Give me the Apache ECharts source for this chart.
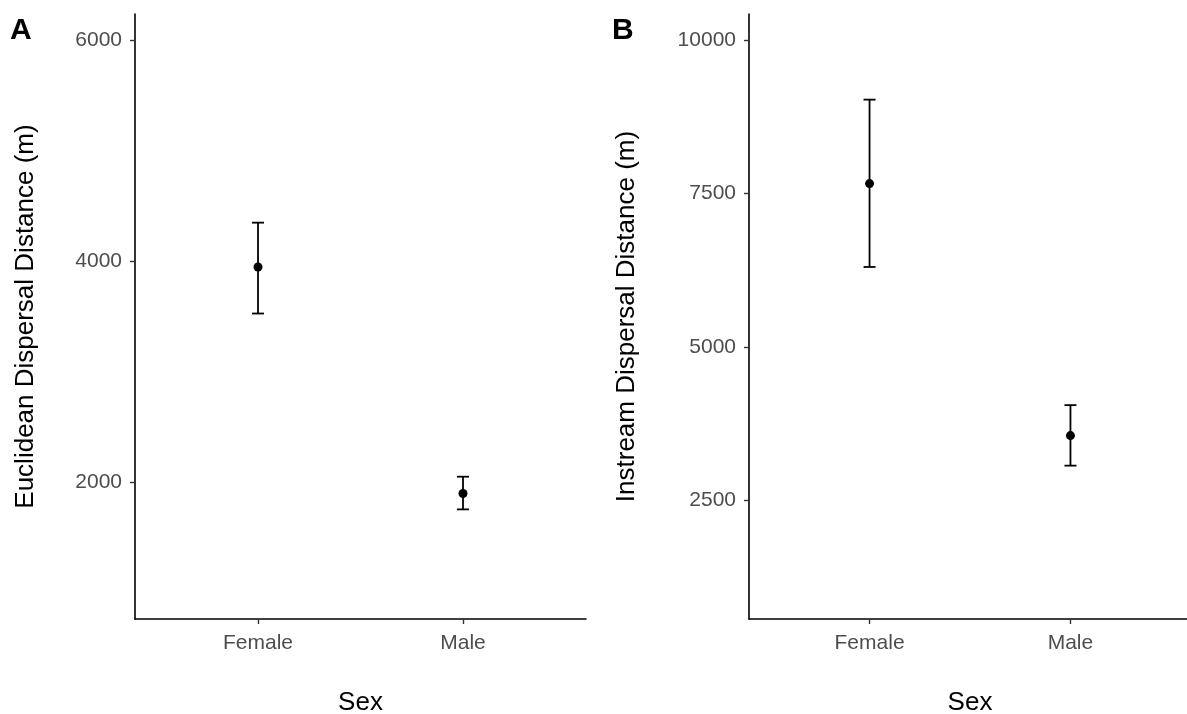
<!DOCTYPE html>
<html>
<head>
<meta charset="utf-8">
<script src="https://cdn.jsdelivr.net/npm/echarts@6/dist/echarts.min.js"></script>
<style>
html,body{margin:0;padding:0;background:#fff;}
#chart{width:1187px;height:714px;}
</style>
</head>
<body>
<div id="chart"></div>
<script>
// ---- data ----
const categories = ['Female', 'Male'];
// Panel A: Euclidean dispersal distance (m)
const euclidMean  = [3948, 1897];
const euclidLower = [3527, 1753];
const euclidUpper = [4350, 2049];
const euclidTicks = [2000, 4000, 6000];
// Panel B: Instream dispersal distance (m)
const instreamMean  = [7663, 3552];
const instreamLower = [6303, 3062];
const instreamUpper = [9033, 4049];
const instreamTicks = [2500, 5000, 7500, 10000];

const FONT = '"Liberation Sans", Arial, sans-serif';

function xAxisCfg(gridIndex) {
  return {
    type: 'value', gridIndex: gridIndex, min: -0.6, max: 1.6,
    name: 'Sex', nameLocation: 'middle', nameGap: 84,
    nameTextStyle: {color: '#000', fontSize: 26, fontFamily: FONT, verticalAlign: 'middle'},
    axisLine: {show: true, onZero: false, lineStyle: {color: '#000', width: 1.6}},
    axisTick: {show: true, length: 5, lineStyle: {color: '#333', width: 1.4}, customValues: [0, 1]},
    axisLabel: {show: true, color: '#4d4d4d', fontSize: 21, fontFamily: FONT, margin: 14,
      customValues: [0, 1], formatter: v => categories[Math.round(v)]},
    splitLine: {show: false}
  };
}
function yAxisCfg(gridIndex, min, max, ticks, name, gap) {
  return {
    type: 'value', gridIndex: gridIndex, min: min, max: max,
    name: name, nameLocation: 'middle', nameGap: gap, nameRotate: 90,
    nameTextStyle: {color: '#000', fontSize: 26, fontFamily: FONT, verticalAlign: 'middle'},
    axisLine: {show: true, onZero: false, lineStyle: {color: '#000', width: 1.6}},
    axisTick: {show: true, length: 5, lineStyle: {color: '#333', width: 1.4}, customValues: ticks},
    axisLabel: {show: true, color: '#4d4d4d', fontSize: 21, fontFamily: FONT, margin: 13,
      customValues: ticks, formatter: v => String(Math.round(v))},
    splitLine: {show: false}
  };
}

function errData(lower, upper) {
  return categories.map((c, i) => [i, lower[i], upper[i]]);
}
function pointData(mean) {
  return categories.map((c, i) => [i, mean[i]]);
}
function errRender(params, api) {
  const x = api.value(0);
  const lo = api.coord([x, api.value(1)]);
  const hi = api.coord([x, api.value(2)]);
  const hw = 6;
  const style = {stroke: '#000', lineWidth: 1.8};
  return {
    type: 'group',
    children: [
      {type: 'line', shape: {x1: lo[0], y1: lo[1], x2: hi[0], y2: hi[1]}, style: style},
      {type: 'line', shape: {x1: lo[0] - hw, y1: lo[1], x2: lo[0] + hw, y2: lo[1]}, style: style},
      {type: 'line', shape: {x1: hi[0] - hw, y1: hi[1], x2: hi[0] + hw, y2: hi[1]}, style: style}
    ]
  };
}

const chart = echarts.init(document.getElementById('chart'));
chart.setOption({
  backgroundColor: '#fff',
  animation: false,
  textStyle: {fontFamily: FONT},
  grid: [
    {left: 135, top: 14, width: 451, height: 605, outerBoundsMode: 'none', containLabel: false},
    {left: 749, top: 14, width: 442, height: 605, outerBoundsMode: 'none', containLabel: false}
  ],
  xAxis: [xAxisCfg(0), xAxisCfg(1)],
  yAxis: [
    yAxisCfg(0, 760, 6240, euclidTicks, 'Euclidean Dispersal Distance (m)', 109),
    yAxisCfg(1, 560, 10430, instreamTicks, 'Instream Dispersal Distance (m)', 122)
  ],
  graphic: [
    {type: 'text', left: 10, top: 16, style: {text: 'A', font: 'bold 30px ' + FONT, fill: '#000'}},
    {type: 'text', left: 612, top: 16, style: {text: 'B', font: 'bold 30px ' + FONT, fill: '#000'}}
  ],
  series: [
    {type: 'custom', xAxisIndex: 0, yAxisIndex: 0, renderItem: errRender, data: errData(euclidLower, euclidUpper), z: 2},
    {type: 'scatter', xAxisIndex: 0, yAxisIndex: 0, data: pointData(euclidMean), symbol: 'circle', symbolSize: 9,
      itemStyle: {color: '#000', opacity: 1}, z: 3},
    {type: 'custom', xAxisIndex: 1, yAxisIndex: 1, renderItem: errRender, data: errData(instreamLower, instreamUpper), z: 2},
    {type: 'scatter', xAxisIndex: 1, yAxisIndex: 1, data: pointData(instreamMean), symbol: 'circle', symbolSize: 9,
      itemStyle: {color: '#000', opacity: 1}, z: 3}
  ]
});
</script>
</body>
</html>
